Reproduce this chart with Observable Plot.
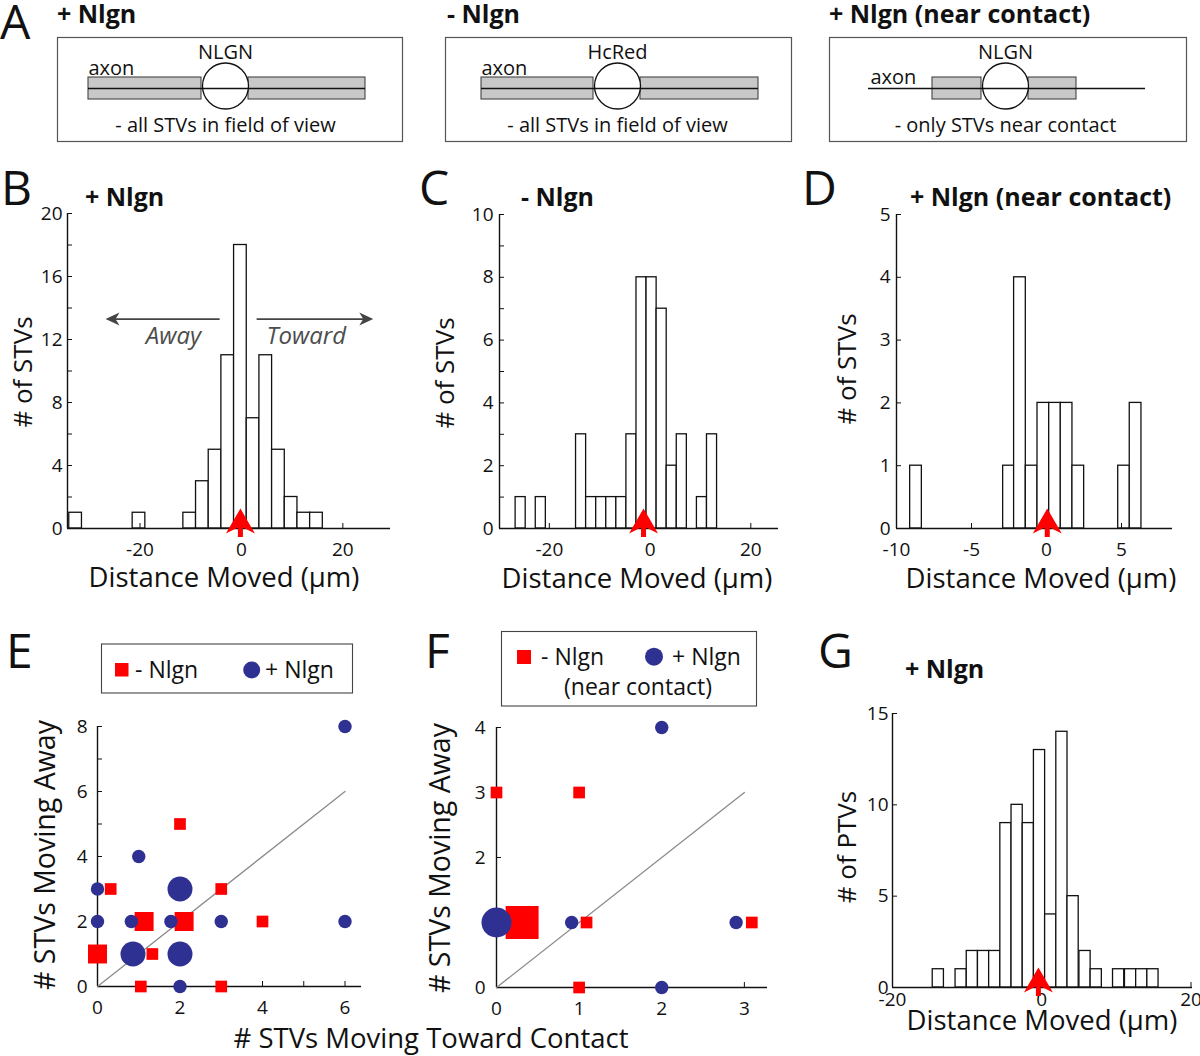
<!DOCTYPE html>
<html><head><meta charset="utf-8">
<script src="https://cdn.jsdelivr.net/npm/d3@7"></script>
<script src="https://cdn.jsdelivr.net/npm/@observablehq/plot@0.6"></script>
<style>
body{margin:0;background:#fff;}
#fig{position:relative;width:1200px;height:1056px;overflow:hidden;background:#fff;}
svg{overflow:visible;}
</style></head><body><div id="fig"></div>
<script>
// ---------------- DATA ----------------
// Panel B: + Nlgn, all STVs (bin centers in µm, counts)
const binsB_center = [-32.7, -20.2, -10.2, -7.7, -5.2, -2.7, -0.2, 2.3, 4.8, 7.3, 9.8, 12.3, 14.8];
const binsB_count  = [1, 1, 1, 3, 5, 11, 18, 7, 11, 5, 2, 1, 1];
const binWidthB = 2.5;
const meanB = -0.2;
// Panel C: - Nlgn
const binsC_center = [-25.7, -21.7, -13.7, -11.7, -9.7, -7.7, -5.7, -3.7, -1.7, 0.3, 2.3, 4.3, 6.3, 10.3, 12.3];
const binsC_count  = [1, 1, 3, 1, 1, 1, 1, 3, 8, 8, 7, 2, 3, 1, 3];
const binWidthC = 2.0;
const meanC = -1.3;
// Panel D: + Nlgn (near contact)
const binsD_center = [-8.7, -2.5, -1.77, -0.99, -0.21, 0.57, 1.34, 2.12, 5.17, 5.94];
const binsD_count  = [1, 1, 4, 1, 2, 2, 2, 1, 1, 2];
const binWidthD = 0.78;
const meanD = 0.05;
// Panel G: + Nlgn, PTVs
const binsG_center = [-13.86, -10.8, -9.3, -7.8, -6.3, -4.8, -3.3, -1.8, -0.3, 1.2, 2.7, 4.2, 5.8, 7.3, 10.3, 11.9, 13.4, 14.9];
const binsG_count  = [1, 1, 2, 2, 2, 9, 10, 9, 13, 4, 14, 5, 2, 1, 1, 1, 1, 1];
const binWidthG = 1.5;
const meanG = -0.45;

// Panel E: [toward, away, number of cells]
const squaresE = [[0,1,2],[0.32,3,1],[1.13,2,2],[1.33,1,1],[1.05,0,1],[2,5,1],[2.1,2,2],[3,3,1],[3,0,1],[4,2,1]];
const circlesE = [[0,3,1],[0,2,1],[1,4,1],[0.82,2,1],[0.86,1,2],[1.78,2,1],[2,3,2],[2,1,2],[2,0,1],[3,2,1],[6,8,1],[6,2,1]];
const diagE = [0, 6];
// Panel F
const squaresF = [[0,3,1],[1,3,1],[0.31,1,3],[1.09,1,1],[1,0,1],[3.09,1,1]];
const circlesF = [[2,4,1],[0,1,3],[0.91,1,1],[2.9,1,1],[2,0,1]];
const diagF = [0, 3];

// Tick values
const ticksB_x = [-20, 0, 20], ticksB_y = [0,2,4,6,8,10,12,14,16,18,20], labelsB_y = [0,4,8,12,16,20];
const ticksC_x = [-20, 0, 20], ticksC_y = [0,1,2,3,4,5,6,7,8,9,10], labelsC_y = [0,2,4,6,8,10];
const ticksD_x = [-10, -5, 0, 5], ticksD_y = [0,1,2,3,4,5], labelsD_y = [0,1,2,3,4,5];
const ticksG_x = [-20, 0, 20], ticksG_y = [0,5,10,15], labelsG_y = [0,5,10,15];
const ticksE_x = [0,1,2,3,4,5,6], labelsE_x = [0,2,4,6], ticksE_y = [0,1,2,3,4,5,6,7,8], labelsE_y = [0,2,4,6,8];
const ticksF_x = [0,1,2,3], labelsF_x = [0,1,2,3], ticksF_y = [0,1,2,3,4], labelsF_y = [0,2,3,4];

// Panel A schematics (positions along axon, contact at 0; arbitrary units)
const schemTitles = ["+ Nlgn", "- Nlgn", "+ Nlgn (near contact)"];
const schemMarker = ["NLGN", "HcRed", "NLGN"];
const schemNotes  = ["- all STVs in field of view", "- all STVs in field of view", "- only STVs near contact"];
const schemExtent = [[-16.8, 17.7], [-17.2, 17.4], [-17.6, 18.1]];
const schemAxon   = [[-13.7, 14.0], [-13.6, 14.1], [-13.7, 14.0]];
const schemBars   = [[[-13.7,-2.4],[2.3,14.0]], [[-13.6,-2.4],[2.3,14.1]], [[-7.3,-2.4],[2.3,7.1]]];
const schemAxonLabel = [[-13.7, 2.0], [-13.6, 2.0], [-13.5, 1.1]];

// Annotations in B
const annB_arrows = [{x1: -4.3, x2: -26.8, y: 13.3, dir: -1}, {x1: 3.0, x2: 26.0, y: 13.3, dir: 1}];
const annB_text = [{x: -13.4, y: 12.2, t: "Away"}, {x: 12.8, y: 12.2, t: "Toward"}];

// ---------------- DRAWING ----------------
const FONT = '"Open Sans", sans-serif';
const INK = "#111";
const RED = "#ff0000";
const BLUE = "#2e3192";
const fig = document.getElementById("fig");

function place(svg, left, top) {
  svg.style.position = "absolute";
  svg.style.left = left + "px";
  svg.style.top = top + "px";
  svg.style.overflow = "visible";
  svg.style.background = "transparent";
  fig.appendChild(svg);
}

// red arrowhead pointing up, tip above the anchor point
const arrowSymbol = {
  draw(ctx, size) {
    const s = Math.sqrt(size / Math.PI) / 10;
    ctx.moveTo(0, -20 * s);
    ctx.lineTo(14.5 * s, 5 * s);
    ctx.lineTo(2.5 * s, -1 * s);
    ctx.lineTo(2.5 * s, 8.5 * s);
    ctx.lineTo(-2.5 * s, 8.5 * s);
    ctx.lineTo(-2.5 * s, -1 * s);
    ctx.lineTo(-14.5 * s, 5 * s);
    ctx.closePath();
  }
};
// filled arrowhead with tip at the anchor point, pointing up before rotation
const headSymbol = {
  draw(ctx, size) {
    const s = Math.sqrt(size / Math.PI) / 10;
    ctx.moveTo(0, 0);
    ctx.lineTo(6.5 * s, 14 * s);
    ctx.lineTo(0, 10 * s);
    ctx.lineTo(-6.5 * s, 14 * s);
    ctx.closePath();
  }
};

const baseStyle = {fontFamily: FONT, fontSize: "19px", color: INK, background: "transparent", overflow: "visible"};

function histogram({centers, counts, bw, mean, xDomain, yMax, xTicks, yTicks, yLabels, box, extra = []}) {
  const bins = centers.map((c, i) => ({x1: c - bw / 2, x2: c + bw / 2, n: counts[i]}));
  const yl = new Set(yLabels);
  const svg = Plot.plot({
    width: box.w, height: box.h,
    marginLeft: box.ml, marginRight: box.mr, marginTop: box.mt, marginBottom: box.mb,
    x: {domain: xDomain}, y: {domain: [0, yMax]},
    style: baseStyle,
    marks: [
      Plot.rect(bins, {x1: "x1", x2: "x2", y1: 0, y2: "n", fill: "white", stroke: INK, strokeWidth: 1.3}),
      ...extra,
      Plot.axisX({ticks: xTicks, tickSize: -5, tickPadding: box.xPad ?? 18.5, tickFormat: d => String(d), label: null}),
      Plot.axisY({ticks: yTicks, tickSize: -5, tickPadding: box.yPad, tickFormat: d => yl.has(d) ? String(d) : "", label: null}),
      Plot.ruleY([0], {stroke: INK, strokeWidth: 1.4}),
      Plot.ruleX([xDomain[0]], {stroke: INK, strokeWidth: 1.4}),
      Plot.dot([mean], {x: d => d, y: 0, symbol: arrowSymbol, r: 10, fill: RED, stroke: "none"})
    ]
  });
  place(svg, box.left, box.top);
}

function scatter({squares, circles, diag, xDomain, yDomain, xTicks, xLabels, yTicks, yLabels, box, sqR, ciR}) {
  const xl = new Set(xLabels), yl = new Set(yLabels);
  const sq = Object.keys(sqR).map(n => Plot.dot(squares.filter(d => d[2] === +n), {x: d => d[0], y: d => d[1], symbol: "square", r: sqR[n], fill: RED, stroke: "none"}));
  const ci = Object.keys(ciR).map(n => Plot.dot(circles.filter(d => d[2] === +n), {x: d => d[0], y: d => d[1], symbol: "circle", r: ciR[n], fill: BLUE, stroke: "none"}));
  const svg = Plot.plot({
    width: box.w, height: box.h,
    marginLeft: box.ml, marginRight: box.mr, marginTop: box.mt, marginBottom: box.mb,
    x: {domain: xDomain}, y: {domain: yDomain},
    style: baseStyle,
    marks: [
      Plot.axisX({ticks: xTicks, tickSize: -5, tickPadding: 18.5, tickFormat: d => xl.has(d) ? String(d) : "", label: null}),
      Plot.axisY({ticks: yTicks, tickSize: -5, tickPadding: box.yPad, tickFormat: d => yl.has(d) ? String(d) : "", label: null}),
      Plot.ruleY([0], {stroke: INK, strokeWidth: 1.4}),
      Plot.ruleX([0], {stroke: INK, strokeWidth: 1.4}),
      Plot.line(diag.map(v => [v, v]), {stroke: "#8a8a8a", strokeWidth: 1.3}),
      ...sq, ...ci
    ]
  });
  place(svg, box.left, box.top);
}

// Panel A schematics
const schemBox = [{left: 57, w: 345}, {left: 445, w: 346}, {left: 829, w: 357}];
schemBox.forEach((b, i) => {
  const svg = Plot.plot({
    width: b.w, height: 104, margin: 0,
    x: {domain: schemExtent[i], axis: null}, y: {domain: [-5.3, 5.1], axis: null},
    style: baseStyle,
    marks: [
      Plot.frame({stroke: "#555", strokeWidth: 1.2}),
      Plot.rect(schemBars[i], {x1: d => d[0], x2: d => d[1], y1: -1.1, y2: 1.1, fill: "#c8c8c8", stroke: "#444", strokeWidth: 1.1}),
      Plot.dot([0], {x: d => d, y: 0.25, r: 23, fill: "white", stroke: INK, strokeWidth: 1.3}),
      Plot.ruleY([0], {x1: schemAxon[i][0], x2: schemAxon[i][1], stroke: INK, strokeWidth: 1.3}),
      Plot.text([schemMarker[i]], {x: 0, y: 3.6, text: d => d, fontSize: 20, fill: INK}),
      Plot.text(["axon"], {x: schemAxonLabel[i][0], y: schemAxonLabel[i][1], text: d => d, textAnchor: "start", fontSize: 20, fill: INK}),
      Plot.text([schemNotes[i]], {x: 0, y: -3.7, text: d => d, fontSize: 20, fill: INK})
    ]
  });
  place(svg, b.left, 37);
});

histogram({centers: binsB_center, counts: binsB_count, bw: binWidthB, mean: meanB,
  xDomain: [-34.3, 29.4], yMax: 20, xTicks: ticksB_x, yTicks: ticksB_y, yLabels: labelsB_y,
  box: {left: 0, top: 180, w: 400, h: 380, ml: 67, mr: 10, mt: 33, mb: 32, yPad: 10},
  extra: [
    Plot.link(annB_arrows, {x1: "x1", x2: d => d.x2 - d.dir * 1.5, y1: "y", y2: "y", stroke: "#444", strokeWidth: 1.8}),
    Plot.dot(annB_arrows, {x: "x2", y: "y", symbol: headSymbol, r: 10, rotate: d => d.dir * 90, fill: "#444", stroke: "none"}),
    Plot.text(annB_text, {x: "x", y: "y", text: "t", fontSize: 24, fontStyle: "italic", fill: "#4d4d4d"})
  ]});
histogram({centers: binsC_center, counts: binsC_count, bw: binWidthC, mean: meanC,
  xDomain: [-29.9, 25.5], yMax: 10, xTicks: ticksC_x, yTicks: ticksC_y, yLabels: labelsC_y,
  box: {left: 400, top: 180, w: 400, h: 380, ml: 99, mr: 22, mt: 34, mb: 32, yPad: 11}});
histogram({centers: binsD_center, counts: binsD_count, bw: binWidthD, mean: meanD,
  xDomain: [-10, 8.4], yMax: 5, xTicks: ticksD_x, yTicks: ticksD_y, yLabels: labelsD_y,
  box: {left: 800, top: 180, w: 400, h: 380, ml: 96, mr: 28, mt: 34, mb: 32, yPad: 11}});
histogram({centers: binsG_center, counts: binsG_count, bw: binWidthG, mean: meanG,
  xDomain: [-20, 20.2], yMax: 15, xTicks: ticksG_x, yTicks: ticksG_y, yLabels: labelsG_y,
  box: {left: 800, top: 690, w: 400, h: 330, ml: 92, mr: 8, mt: 23, mb: 33, yPad: 9, xPad: 10}});

scatter({squares: squaresE, circles: circlesE, diag: diagE, xDomain: [0, 6.4], yDomain: [0, 8],
  xTicks: ticksE_x, xLabels: labelsE_x, yTicks: ticksE_y, yLabels: labelsE_y,
  box: {left: 0, top: 700, w: 400, h: 330, ml: 97, mr: 39, mt: 26, mb: 44, yPad: 15},
  sqR: {1: 6.6, 2: 10.7}, ciR: {1: 6.7, 2: 12.5}});
scatter({squares: squaresF, circles: circlesF, diag: diagF, xDomain: [0, 3.28], yDomain: [0, 4],
  xTicks: ticksF_x, xLabels: labelsF_x, yTicks: ticksF_y, yLabels: labelsF_y,
  box: {left: 400, top: 700, w: 400, h: 330, ml: 96, mr: 33, mt: 27, mb: 43, yPad: 16},
  sqR: {1: 6.6, 3: 18.6}, ciR: {1: 6.7, 3: 15}});

// ---------------- TEXT OVERLAY (titles, labels, legends) ----------------
const ov = d3.select(fig).append("svg")
  .attr("width", 1200).attr("height", 1056)
  .style("position", "absolute").style("left", "0px").style("top", "0px")
  .style("pointer-events", "none").style("overflow", "visible");
function T(str, x, y, o = {}) {
  const t = ov.append("text").attr("x", x).attr("y", y).text(str)
    .attr("font-family", FONT).attr("font-size", o.size || 25)
    .attr("font-weight", o.weight || 400).attr("text-anchor", o.anchor || "start")
    .attr("fill", o.fill || INK);
  if (o.rotate) t.attr("transform", `rotate(${o.rotate},${x},${y})`);
  return t;
}
// panel letters
[["A", 0, 39], ["B", 1, 205], ["C", 419, 205], ["D", 802, 205], ["E", 6, 668], ["F", 425, 668], ["G", 818, 668]]
  .forEach(([s, x, y]) => T(s, x, y, {size: 48}));
// bold titles
T(schemTitles[0], 57, 23, {size: 25, weight: 700});
T(schemTitles[1], 447, 23, {size: 25, weight: 700});
T(schemTitles[2], 829, 23, {size: 25, weight: 700});
T("+ Nlgn", 85, 206, {size: 25, weight: 700});
T("- Nlgn", 521, 206, {size: 25, weight: 700});
T("+ Nlgn (near contact)", 910, 206, {size: 25, weight: 700});
T("+ Nlgn", 905, 678, {size: 25, weight: 700});
// axis titles
T("Distance Moved (\u03bcm)", 224, 587, {size: 27.5, anchor: "middle"});
T("Distance Moved (\u03bcm)", 637, 588, {size: 27.5, anchor: "middle"});
T("Distance Moved (\u03bcm)", 1041, 588, {size: 27.5, anchor: "middle"});
T("Distance Moved (\u03bcm)", 1042, 1030, {size: 27.5, anchor: "middle"});
T("# STVs Moving Toward Contact", 431, 1048, {size: 27.5, anchor: "middle"});
T("# of STVs", 32, 372, {size: 26, anchor: "middle", rotate: -90});
T("# of STVs", 454, 373, {size: 26, anchor: "middle", rotate: -90});
T("# of STVs", 856, 369, {size: 26, anchor: "middle", rotate: -90});
T("# of PTVs", 856, 847, {size: 26, anchor: "middle", rotate: -90});
T("# STVs Moving Away", 55, 855, {size: 28.5, anchor: "middle", rotate: -90});
T("# STVs Moving Away", 450, 858, {size: 28.5, anchor: "middle", rotate: -90});
// legends
ov.append("rect").attr("x", 101.5).attr("y", 644).attr("width", 251).attr("height", 49).attr("fill", "white").attr("stroke", "#444").attr("stroke-width", 1.1);
ov.append("rect").attr("x", 115).attr("y", 663).attr("width", 13.5).attr("height", 13.5).attr("fill", RED);
T("- Nlgn", 135, 678, {size: 23});
ov.append("circle").attr("cx", 251.7).attr("cy", 670).attr("r", 8.5).attr("fill", BLUE);
T("+ Nlgn", 265, 678, {size: 23});
ov.append("rect").attr("x", 501.5).attr("y", 631.5).attr("width", 255).attr("height", 74.5).attr("fill", "white").attr("stroke", "#444").attr("stroke-width", 1.1);
ov.append("rect").attr("x", 517).attr("y", 650).attr("width", 14).attr("height", 14).attr("fill", RED);
T("- Nlgn", 541, 665, {size: 23});
ov.append("circle").attr("cx", 654).attr("cy", 656.7).attr("r", 9).attr("fill", BLUE);
T("+ Nlgn", 672, 665, {size: 23});
T("(near contact)", 638, 695, {size: 23, anchor: "middle"});
</script></body></html>
